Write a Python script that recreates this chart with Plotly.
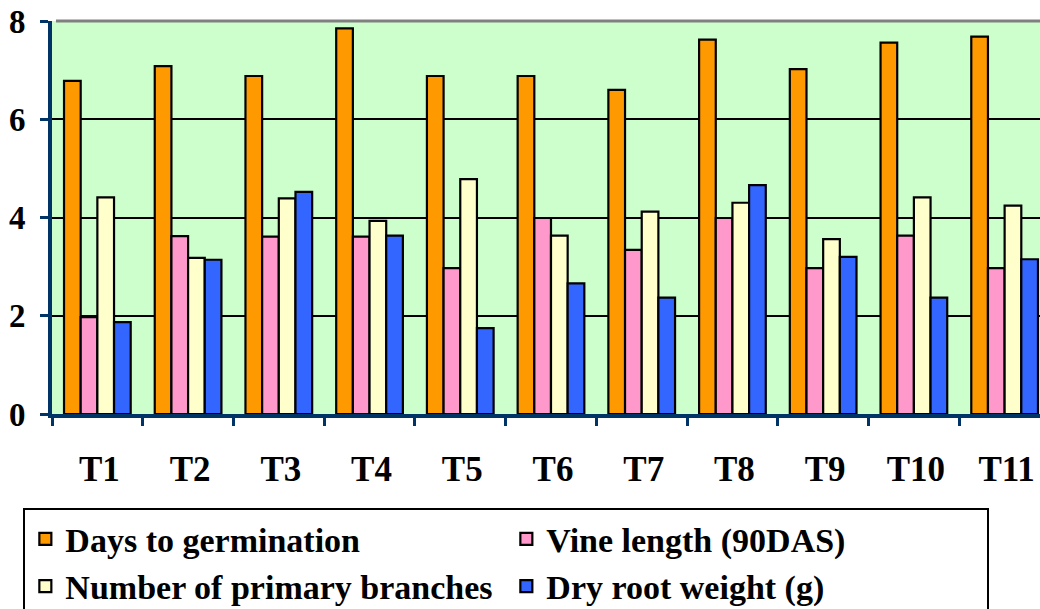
import plotly.graph_objects as go

categories = ["T1", "T2", "T3", "T4", "T5", "T6", "T7", "T8", "T9", "T10", "T11"]
days_to_germination = [6.78, 7.08, 6.88, 7.85, 6.88, 6.88, 6.60, 7.62, 7.02, 7.56, 7.68]
vine_length = [1.97, 3.62, 3.61, 3.61, 2.97, 3.99, 3.34, 3.99, 2.97, 3.63, 2.97]
primary_branches = [4.41, 3.18, 4.39, 3.93, 4.78, 3.63, 4.12, 4.30, 3.56, 4.41, 4.24]
dry_root_weight = [1.87, 3.14, 4.52, 3.63, 1.75, 2.66, 2.37, 4.66, 3.20, 2.37, 3.15]

series = [
    ("Days to germination", days_to_germination, "#FF9900"),
    ("Vine length (90DAS)", vine_length, "#FF99CC"),
    ("Number of primary branches", primary_branches, "#FFFFCC"),
    ("Dry root weight (g)", dry_root_weight, "#3366FF"),
]

fig = go.Figure()
for name, vals, color in series:
    fig.add_trace(go.Bar(
        x=categories, y=vals, name="<b>" + name + "</b>",
        marker=dict(color=color, line=dict(color="black", width=2.2)),
    ))

serif = "Liberation Serif"
fig.update_layout(
    width=1040, height=609,
    margin=dict(l=52, r=0, t=21, b=195, autoexpand=False),
    font=dict(family=serif, color="black"),
    paper_bgcolor="white",
    plot_bgcolor="#CCFFCC",
    barmode="group",
    bargap=0.265,
    bargroupgap=0,
    showlegend=True,
    legend=dict(
        orientation="h",
        x=-0.029, xanchor="left",
        y=-0.24, yanchor="top",
        entrywidth=436, entrywidthmode="pixels",
        bordercolor="black", borderwidth=2,
        bgcolor="white",
        font=dict(family=serif, size=34, color="black"),
        itemwidth=30,
        traceorder="normal",
    ),
    xaxis=dict(
        range=[-0.5, 10.39],
        tickson="boundaries",
        ticks="outside", ticklen=8, tickwidth=3, tickcolor="#003366",
        showline=True, linecolor="#003366", linewidth=4,
        tickfont=dict(family=serif, size=35, color="black", weight="bold"),
        ticklabelstandoff=21,
        ticklabelshift=2,
        showgrid=False,
    ),
    yaxis=dict(
        range=[0, 8],
        tickvals=[0, 2, 4, 6, 8],
        ticks="outside", ticklen=8, tickwidth=3, tickcolor="#003366",
        showline=True, linecolor="#003366", linewidth=4,
        tickfont=dict(family=serif, size=33, color="black", weight="bold"),
        ticklabelstandoff=8,
        ticklabeloverflow="allow",
        showgrid=True, gridcolor="black", gridwidth=1.5,
        zeroline=False,
    ),
    shapes=[dict(type="line", xref="paper", yref="paper", x0=0.004, x1=1, y0=1, y1=1,
                 line=dict(color="#808080", width=3), layer="above")],
)

fig.write_html(
    "out.html",
    config={"displayModeBar": False},
    post_script="document.body.style.margin='0';document.body.style.overflow='hidden';",
)
